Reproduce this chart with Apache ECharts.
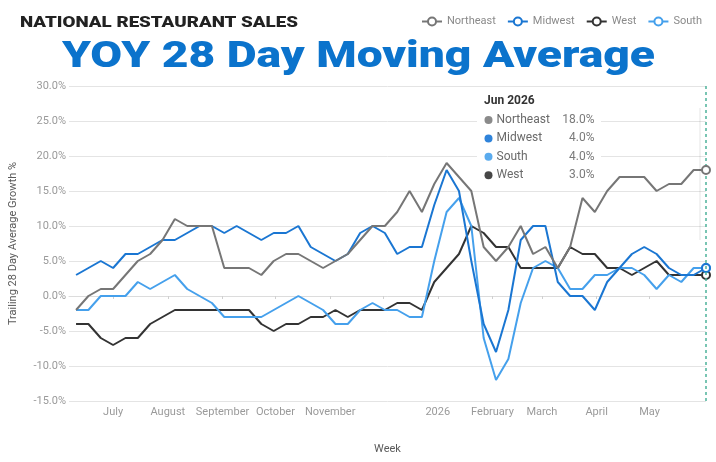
<!DOCTYPE html>
<html><head><meta charset="utf-8">
<script src="https://cdn.jsdelivr.net/npm/echarts@6/dist/echarts.min.js"></script>
<style>html,body{margin:0;padding:0;background:#fff}#c{width:716px;height:462px}</style>
</head><body><div id="c"></div>
<script>
// ---- data ----
const weeks = ['2025-06-10','2025-06-17','2025-06-24','2025-07-01','2025-07-08','2025-07-15','2025-07-22','2025-07-29',
  '2025-08-05','2025-08-12','2025-08-19','2025-08-26','2025-09-02','2025-09-09','2025-09-16','2025-09-23','2025-09-30',
  '2025-10-07','2025-10-14','2025-10-21','2025-10-28','2025-11-04','2025-11-11','2025-11-18','2025-11-25',
  '2025-12-02','2025-12-09','2025-12-16','2025-12-23','2025-12-30','2026-01-06','2026-01-13','2026-01-20','2026-01-27',
  '2026-02-03','2026-02-10','2026-02-17','2026-02-24','2026-03-03','2026-03-10','2026-03-17','2026-03-24','2026-03-31',
  '2026-04-07','2026-04-14','2026-04-21','2026-04-28','2026-05-05','2026-05-12','2026-05-19','2026-05-26','2026-06-02'];
const northeast = [-2,0,1,1,3,5,6,8,11,10,10,10, 4,4,4,3,5,6,6,5,4,5,6,8, 10,10,12,15,12,16,19,17,15,7,5,7, 10,6,7,4,7,14,12,15,17,17,17,15, 16,16,18,18];
const midwest   = [3,4,5,4,6,6,7,8,8,9,10,10, 9,10,9,8,9,9,10,7,6,5,6,9, 10,9,6,7,7,13,18,15,5,-4,-8,-2, 8,10,10,2,0,0,-2,2,4,6,7,6, 4,3,3,4];
const south     = [-2,-2,0,0,0,2,1,2,3,1,0,-1, -3,-3,-3,-3,-2,-1,0,-1,-2,-4,-4,-2, -1,-2,-2,-3,-3,5,12,14,10,-6,-12,-9, -1,4,5,4,1,1,3,3,4,4,3,1, 3,2,4,4];
const west      = [-4,-4,-6,-7,-6,-6,-4,-3,-2,-2,-2,-2, -2,-2,-2,-4,-5,-4,-4,-3,-3,-2,-3,-2, -2,-2,-1,-1,-2,2,4,6,10,9,7,7, 4,4,4,4,7,6,6,4,4,3,4,5, 3,3,3,3];
const seriesNames = ['Northeast','Midwest','South','West'];
const legendOrder = ['Northeast','Midwest','West','South'];
const labelTicks = ['2025-07-01','2025-08-01','2025-09-01','2025-10-01','2025-11-01','2026-01-01','2026-02-01','2026-03-01','2026-04-01','2026-05-01'];
const labelTickText = ['July','August','September','October','November','2026','February','March','April','May'];
const zeroLineTicks = ['2025-07-01','2025-08-01','2025-09-01','2025-10-01','2025-11-01','2025-12-01','2026-01-01','2026-02-01','2026-03-01','2026-04-01','2026-05-01'];
const xMin = '2025-06-06', xMax = '2026-06-02';
const yMin = -15, yMax = 30, yStep = 5;

// ---- helpers ----
function ts(s){const p=s.split('-').map(Number);return new Date(p[0],p[1]-1,p[2]).getTime();}
const colors = {Northeast:'#767676', Midwest:'#1a76d2', South:'#45a0ec', West:'#333333'};
const dotColors = {Northeast:'#8a8a8a', Midwest:'#2f83da', South:'#5aabee', West:'#474747'};
const values = {Northeast:northeast, Midwest:midwest, South:south, West:west};
const last = weeks.length-1;
const labelTs = labelTicks.map(ts);
const monthAbbr = ['Jan','Feb','Mar','Apr','May','Jun','Jul','Aug','Sep','Oct','Nov','Dec'];
const lastDate = new Date(ts(weeks[last]));
const tipTitle = monthAbbr[lastDate.getMonth()]+' '+lastDate.getFullYear();

function measure(text, font){const c=document.createElement('canvas').getContext('2d');c.font=font;return c.measureText(text).width;}
const subFont = '900 14px Roboto', mainFont = '900 36px Roboto';
const subText = 'NATIONAL RESTAURANT SALES', mainText = 'YOY 28 Day Moving Average';
const subScale = 278/measure(subText, subFont);
const mainScale = 593/measure(mainText, mainFont);

const series = seriesNames.map((n,si)=>({
  name:n, type:'line', data: weeks.map((w,i)=>[ts(w), values[n][i]]),
  symbol:'emptyCircle', showSymbol:true, showAllSymbol:true,
  symbolSize:(v,p)=> p.dataIndex===last?8:0,
  lineStyle:{width:2,color:colors[n]}, itemStyle:{color:colors[n], borderWidth:1.5},
  z: 2+ (3-si),
  emphasis:{disabled:true},
  markLine: si===0 ? {silent:true, symbol:'none', label:{show:false},
    lineStyle:{color:'#4db39a', type:[3,3], width:1.5}, data:[{xAxis: ts(weeks[last])}]} : undefined
}));

// tooltip rows sorted by last value, descending
const rows = seriesNames.map((n,i)=>({n, v:values[n][last], i})).sort((a,b)=>b.v-a.v || a.i-b.i);
const tipEls = [
  {type:'rect', shape:{x:477,y:89,width:124,height:96}, style:{fill:'#ffffff'}, z:50},
  {type:'rect', shape:{x:699,y:108,width:2,height:132}, style:{fill:'rgba(0,0,0,0.05)'}, z:50},
  {type:'text', x:484, y:101, style:{text:tipTitle, font:'bold 12px Roboto', fill:'#333', textVerticalAlign:'middle'}, z:51}
];
rows.forEach((r,k)=>{
  const y = 120 + k*18.4;
  tipEls.push({type:'circle', shape:{cx:488.5, cy:y, r:4}, style:{fill:dotColors[r.n]}, z:51});
  tipEls.push({type:'text', x:496.5, y:y, style:{text:r.n, font:'12px Roboto', fill:'#6a6a6a', textVerticalAlign:'middle'}, z:51});
  tipEls.push({type:'text', x:594.5, y:y, style:{text:r.v.toFixed(1)+'%', font:'12px Roboto', fill:'#7a7a7a', textAlign:'right', textVerticalAlign:'middle'}, z:51});
});

const chart = echarts.init(document.getElementById('c'), null, {renderer:'canvas'});
chart.setOption({
  backgroundColor:'#ffffff',
  animation:false,
  textStyle:{fontFamily:'Roboto'},
  grid:{left:68, right:10, top:86, bottom:61},
  legend:{data:legendOrder, left:421, top:16, itemWidth:20, itemHeight:10, itemGap:11, padding:0,
    textStyle:{color:'#8a8a8a', fontSize:11, fontFamily:'Roboto'}},
  xAxis:[{
    type:'value', min:ts(xMin), max:ts(xMax), scale:true,
    name:'Week', nameLocation:'middle', nameGap:43,
    nameTextStyle:{color:'#5a5a5a', fontSize:11, fontFamily:'Roboto'},
    axisLine:{show:false, onZero:false}, axisTick:{show:false}, splitLine:{show:false},
    axisLabel:{customValues:labelTs, color:'#9a9a9a', fontSize:11, margin:6, hideOverlap:false,
      formatter:(v)=>{const i=labelTs.indexOf(v);return i>=0?labelTickText[i]:'';}}
  },{
    type:'value', min:ts(xMin), max:ts(xMax), scale:true, position:'bottom',
    axisLine:{show:true, onZero:true, lineStyle:{color:'#dcdcdc', width:1}},
    axisTick:{show:true, customValues:zeroLineTicks.map(ts), length:3, lineStyle:{color:'#d0d0d0'}},
    axisLabel:{show:false}, splitLine:{show:false}
  }],
  yAxis:{
    type:'value', min:yMin, max:yMax, interval:yStep,
    name:'Trailing 28 Day Average Growth %', nameLocation:'middle', nameGap:50,
    nameTextStyle:{color:'#5a5a5a', fontSize:11, fontFamily:'Roboto'},
    axisLine:{show:false}, axisTick:{show:false},
    axisLabel:{color:'#9a9a9a', fontSize:11, margin:3, formatter:(v)=>v.toFixed(1)+'%'},
    splitLine:{lineStyle:{color:'#e4e4e4', width:1}}
  },
  series: series,
  graphic:[
    {type:'text', x:20, y:23, scaleX:subScale, style:{text:subText, font:subFont, fill:'#222222', textVerticalAlign:'middle'}},
    {type:'text', x:62, y:58, scaleX:mainScale, style:{text:mainText, font:mainFont, fill:'#0b73cc', textVerticalAlign:'middle'}},
    ...tipEls
  ]
});
</script></body></html>
